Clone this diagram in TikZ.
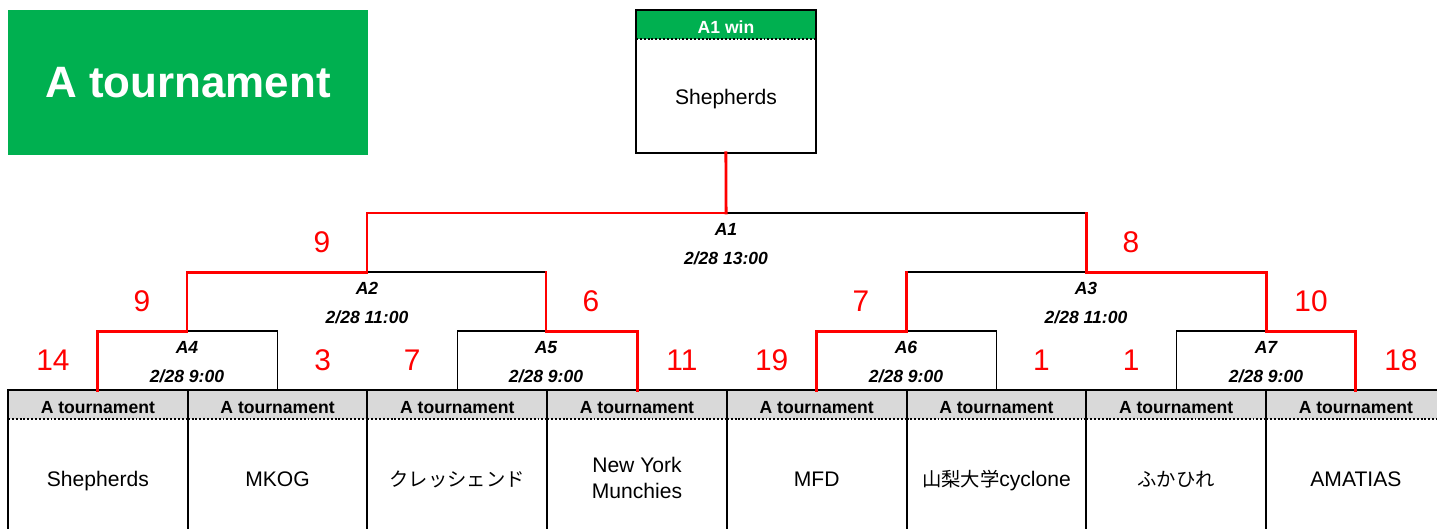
\documentclass[tikz,border=0pt]{standalone}
\usepackage{fontspec}
\setmainfont{Liberation Sans}
\newfontfamily\jp{Noto Sans CJK JP}
\usetikzlibrary{positioning}
\definecolor{xlgreen}{HTML}{00B050}
\definecolor{xlgray}{HTML}{D9D9D9}

\begin{document}
\begin{tikzpicture}[x=0.02cm,y=-0.02cm,every node/.style={outer sep=0pt},
 headcell/.style={fill=xlgray,minimum width=3.595cm,minimum height=0.58cm,
 inner sep=0pt,text height=10pt,text depth=0pt,font=\bfseries\fontsize{10}{12}\selectfont},
 teamcell/.style={minimum width=3.595cm,minimum height=2.36cm,inner sep=0pt,
 align=center,font=\fontsize{12}{15.3}\selectfont},
 oneline/.style={text height=11pt,text depth=1pt},
 twoline/.style={},
 cellrule/.style={line width=1.1pt},
 dotrule/.style={line width=1.1pt,dash pattern=on 1.1pt off 1.1pt},
 win/.style={red,line width=1.7pt,line cap=rect},
 lose/.style={black,line width=0.6pt},
 score/.style={red,font=\fontsize{17}{20}\selectfont},
 matchlbl/.style={align=center,inner sep=0pt,
 font=\bfseries\itshape\fontsize{10}{16.4}\selectfont}]

  \path[use as bounding box,clip] (0,0) rectangle (1437,528);

  \node[fill=xlgreen,minimum width=7.2cm,minimum height=2.9cm,anchor=north west,
   text=white,font=\bfseries\fontsize{25}{30}\selectfont] (title) at (8,10) {A tournament};

  % winner box
  \node[headcell,fill=xlgreen,text=white,minimum width=3.6cm,anchor=north west]
   (winhead) at (636,10) {A1 win};
  \node[teamcell,oneline,minimum width=3.6cm,minimum height=2.28cm,below=0pt of winhead] (champ) {Shepherds};
  \draw[cellrule] (winhead.north west) rectangle (champ.south east);
  \draw[dotrule] (winhead.south west) -- (winhead.south east);

  % team cells
  \node[headcell,anchor=north west] (h1) at (8,390) {A tournament};
  \foreach \i [remember=\i as \p (initially 1)] in {2,...,8}
   \node[headcell,right=0pt of h\p] (h\i) {A tournament};
  \foreach \i/\name/\kind in {1/Shepherds/oneline,2/MKOG/oneline,
   3/{\jp\fontsize{11}{14}\selectfont クレッシェンド}/oneline,
   4/{New York\\Munchies}/twoline,5/MFD/oneline,
   6/{{\jp\fontsize{11}{14}\selectfont 山梨大学}cyclone}/oneline,
   7/{\jp\fontsize{11}{14}\selectfont ふかひれ}/oneline,8/AMATIAS/oneline}
  {\node[teamcell,\kind,below=0pt of h\i] (t\i) {\name};
   \draw[cellrule] (t\i.south west) |- (h\i.north east) -- (t\i.south east);
   \draw[dotrule] (h\i.south west) -- (h\i.south east);
  }

  % matches
  \coordinate (a4) at (187,331);
  \coordinate (a5) at (546,331);
  \coordinate (a6) at (906,331);
  \coordinate (a7) at (1266,331);
  \coordinate (a2) at (367,272);
  \coordinate (a3) at (1086,272);
  \coordinate (a1) at (726,213);

  \node[matchlbl,below=5.8pt of a4] (m4) {A4\\2/28 9:00};
  \node[matchlbl,below=5.8pt of a5] (m5) {A5\\2/28 9:00};
  \node[matchlbl,below=5.8pt of a6] (m6) {A6\\2/28 9:00};
  \node[matchlbl,below=5.8pt of a7] (m7) {A7\\2/28 9:00};
  \node[matchlbl,below=5.8pt of a2] (m2) {A2\\2/28 11:00};
  \node[matchlbl,below=5.8pt of a3] (m3) {A3\\2/28 11:00};
  \node[matchlbl,below=5.8pt of a1] (m1) {A1\\2/28 13:00};

  \foreach \m/\l/\r/\sl/\sr/\cl/\cr in {a4/h1/h2/14/3/win/lose,a5/h3/h4/7/11/lose/win,
   a6/h5/h6/19/1/win/lose,a7/h7/h8/1/18/lose/win}
  {\draw[\cl] (\l.north) |- (\m) node[score,pos=.25,xshift=-.9cm]{\sl};
   \draw[\cr] (\r.north) |- (\m) node[score,pos=.25,xshift=.9cm]{\sr};
  }
  \foreach \m/\l/\r/\sl/\sr/\cl/\cr in {a2/a4/a5/9/6/win/lose,a3/a6/a7/7/10/lose/win,
   a1/a2/a3/9/8/win/lose}
  {\draw[\cl] (\l |- \m) -- (\m);
   \draw[\cr] (\r |- \m) -- (\m);
   \draw[win] (\l) -- (\l |- \m) node[score,midway,xshift=-.9cm]{\sl};
   \draw[win] (\r) -- (\r |- \m) node[score,midway,xshift=.9cm]{\sr};
  }
  \draw[win] (a1) -- (champ.south);

\end{tikzpicture}
\end{document}
